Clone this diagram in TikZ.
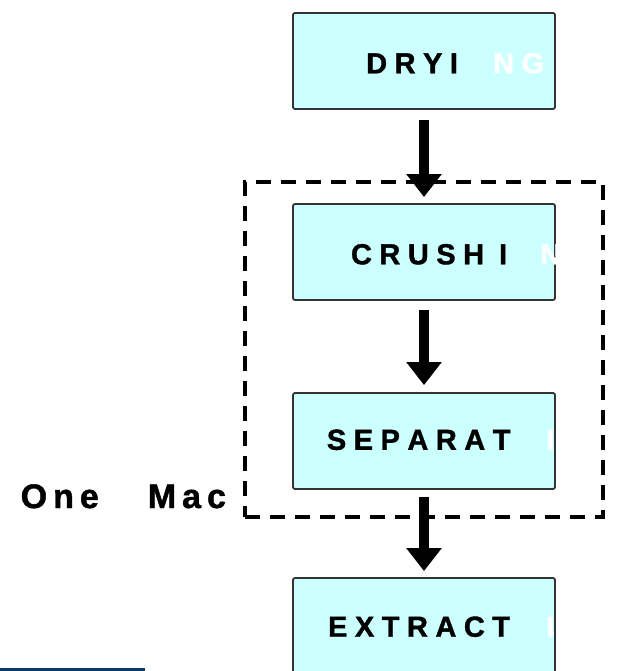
\documentclass[tikz,border=0pt]{standalone}
\usepackage{fontspec}
\setmainfont{Liberation Sans}
\newfontfamily\heavy{Liberation Sans}[UprightFont={* Bold}, FakeBold=1.3]
\newcommand\stagefont{\fontsize{29}{31}\heavy\spaceskip=7.5pt\relax}
\newcommand\sidefont{\fontsize{34}{36}\heavy\spaceskip=6pt\relax}
\usetikzlibrary{arrows.meta}
\definecolor{boxfill}{HTML}{CCFFFF}
\definecolor{boxline}{HTML}{333333}
\definecolor{navybar}{HTML}{0B3A66}
\begin{document}
\begin{tikzpicture}[x=1pt,y=-1pt,
  stage/.style={draw=boxline, line width=1.8pt, fill=boxfill, rounded corners=2pt,
    minimum width=262pt, minimum height=96pt, inner sep=0pt},
  btxt/.style={anchor=base west, inner sep=0pt, font=\stagefont, text=black},
  wtxt/.style={btxt, text=white},
  bigtxt/.style={anchor=base west, inner sep=0pt, font=\sidefont, text=black},
  flow/.style={line width=10pt, -{Triangle[width=34pt,length=23pt]}},
  group/.style={draw=black, line width=4pt, dash pattern=on 15pt off 10pt, minimum width=358pt, minimum height=335pt, inner sep=0pt}]
\clip (0,0) rectangle (621,671);
\fill[white] (0,0) rectangle (621,671);
% dashed machine frame
\node[group] (machine) at (424,349.5) {};
% stage boxes
\node[stage] (dry)   at (424,61)  {};
\node[stage] (crush) at (424,252) {};
\node[stage] (sep)   at (424,441) {};
\node[stage] (ext)   at (424,626) {};
% arrows
\draw[flow] ([yshift=-10pt]dry.south)   -- ([yshift=6pt]crush.north);
\draw[flow] ([yshift=-9pt]crush.south)  -- ([yshift=7pt]sep.north);
\draw[flow] ([yshift=-7pt]sep.south)    -- ([yshift=6pt]ext.north);
% texts
\node[btxt] (dryt)  at (366,73.3)  {D R Y I};
\node[wtxt] (dryw)  at (493,73.3)  {N G};
\node[btxt] (crusht) at (350.8,264.3) {C R U S H\kern15pt I};
\node[wtxt] (crushw) at (540,264.3) {N};
\node[btxt] (sept)  at (326.7,449.8) {S E P A R A T};
\node[wtxt] (sepw)  at (546,449.8) {I};
\node[btxt] (extt)  at (327.9,636.7) {E X T R A C T};
\node[wtxt] (extw)  at (546,636.7) {I};
\begin{scope}
  \clip (0,440) rectangle (226,540);
  \node[bigtxt] (onemac) at (20.5,508) {O n e\hspace{43pt} M a c};
\end{scope}
% bottom-left bar
\fill[navybar] (0,667.5) rectangle (145,672);
\end{tikzpicture}
\end{document}
